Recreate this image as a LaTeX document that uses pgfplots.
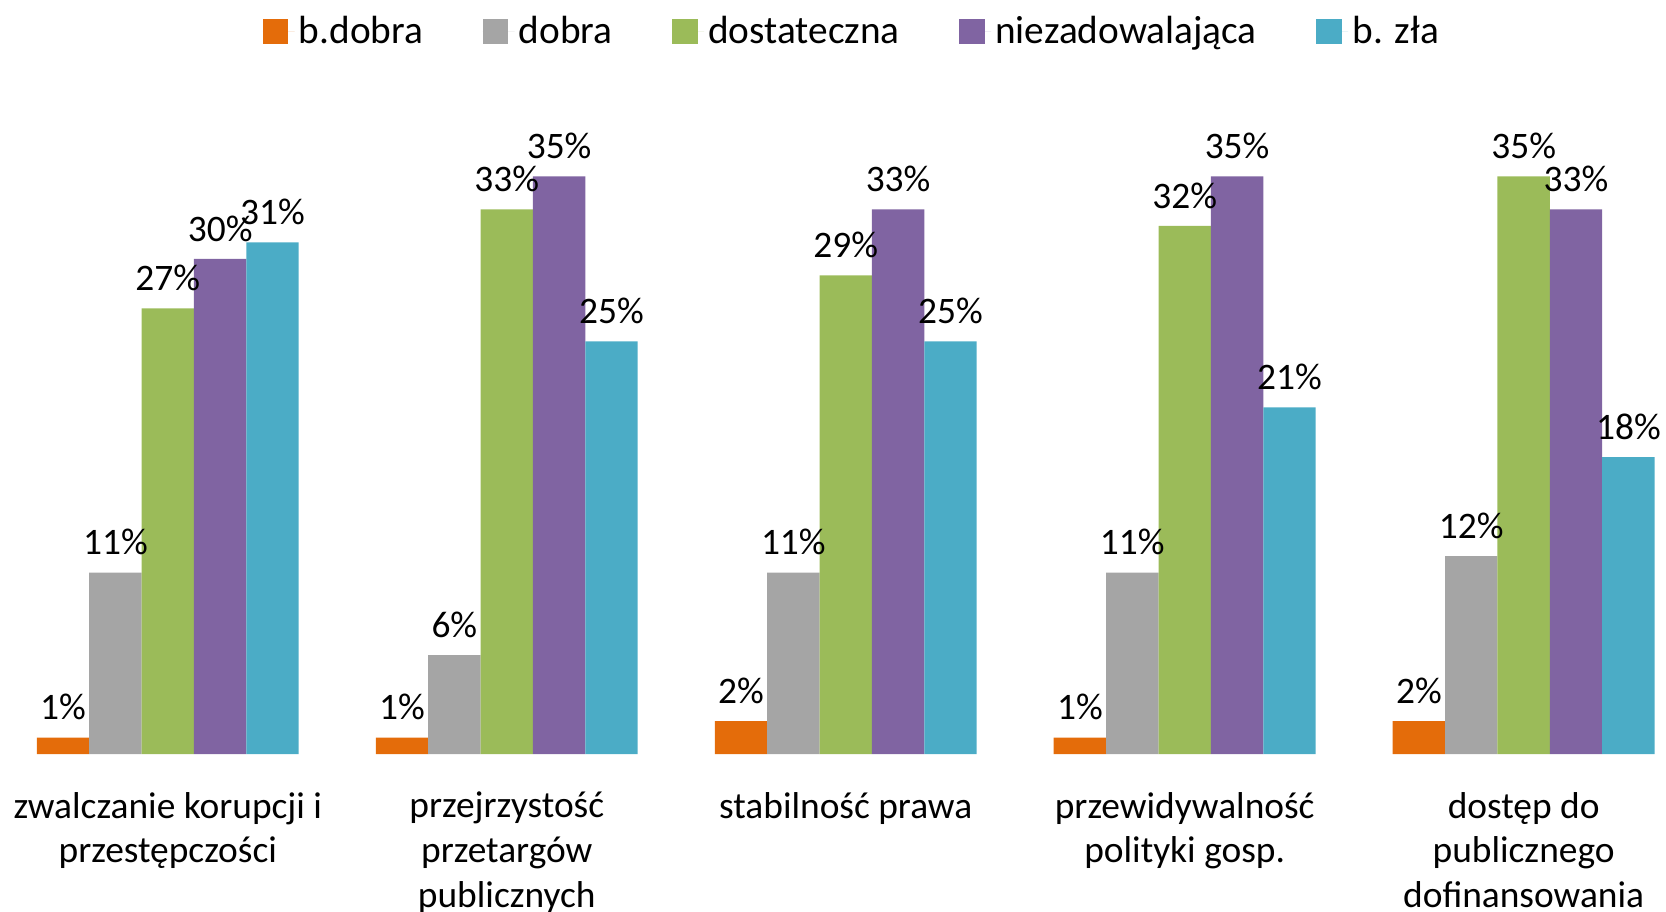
\documentclass[border=0pt]{standalone}
\usepackage{pgfplots}
\pgfplotsset{compat=1.18}
\usepackage{fontspec}
\setmainfont{Carlito}
\definecolor{cOrange}{HTML}{E46C0A}
\definecolor{cGray}{HTML}{A5A5A5}
\definecolor{cGreen}{HTML}{9BBB59}
\definecolor{cPurple}{HTML}{8064A2}
\definecolor{cBlue}{HTML}{4BACC6}
\begin{document}
\begin{tikzpicture}
\begin{axis}[
    scale only axis,
    width=784pt, height=310.8pt,
    xmin=-0.495, xmax=4.42,
    ymin=0, ymax=40,
    ybar=0pt, bar width=24.65pt,
    axis y line=none,
    axis x line*=bottom,
    x axis line style={draw=none},
    xtick={0,1,2,3,4},
    xtick style={draw=none},
    xticklabels={{zwalczanie korupcji i\\przestępczości},
                 {przejrzystość\\przetargów\\publicznych},
                 {stabilność prawa},
                 {przewidywalność\\polityki gosp.},
                 {dostęp do\\publicznego\\dofinansowania}},
    xticklabel style={align=center, font=\fontsize{17.6}{21}\selectfont,
        anchor=north, yshift=-10pt},
    /pgf/number format/assume math mode=true,
    nodes near coords={\pgfmathprintnumber\pgfplotspointmeta\%},
    every node near coord/.append style={font=\fontsize{17.6}{21}\selectfont,
        black, inner sep=1pt, yshift=7pt},
    legend columns=-1,
    legend style={at={(rel axis cs:0.512,1.094)}, anchor=center, draw=none,
        font=\fontsize{18.5}{22}\selectfont,
        /tikz/every even column/.append style={column sep=26pt}},
    legend image code/.code={\fill[#1] (0pt,-6pt) rectangle (12pt,6pt);
        \path (0pt,0pt) -- (15pt,0pt);},
]
\addplot[fill=cOrange, draw=none] coordinates {(0,1) (1,1) (2,2) (3,1) (4,2)};
\addplot[fill=cGray, draw=none] coordinates {(0,11) (1,6) (2,11) (3,11) (4,12)};
\addplot[fill=cGreen, draw=none] coordinates {(0,27) (1,33) (2,29) (3,32) (4,35)};
\addplot[fill=cPurple, draw=none] coordinates {(0,30) (1,35) (2,33) (3,35) (4,33)};
\addplot[fill=cBlue, draw=none] coordinates {(0,31) (1,25) (2,25) (3,21) (4,18)};
\legend{b.dobra, dobra, dostateczna, niezadowalająca, b. zła}
\coordinate (bl) at (rel axis cs:0,-0.238);
\coordinate (tr) at (rel axis cs:1,1.142);
\end{axis}
\pgfresetboundingbox
\useasboundingbox (bl) rectangle (tr);
\end{tikzpicture}
\end{document}
